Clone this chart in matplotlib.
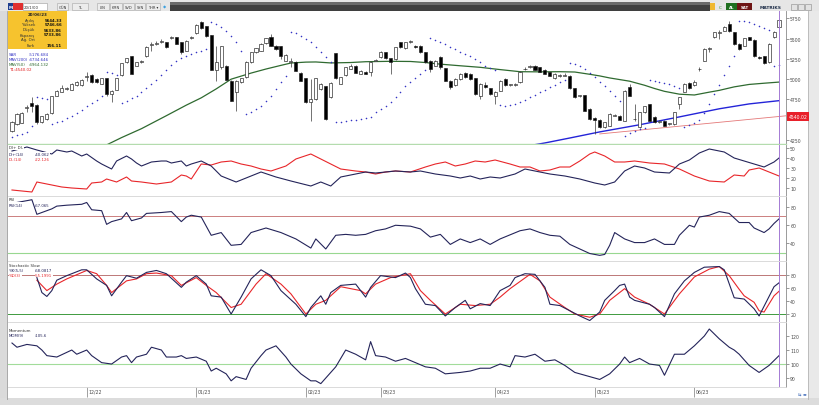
import matplotlib
matplotlib.use("Agg")
import matplotlib.pyplot as plt
import matplotlib.transforms as mtransforms
from matplotlib.patches import Rectangle

W, H = 820, 406

# ---- fiyat verisi (mum) ----
opens = [4366, 4448, 4460, 4650, 4707, 4682, 4477, 4505, 4579, 4797,
         4846, 4880, 4871, 4928, 4928, 5030, 5052, 5002, 4945, 5011,
         4818, 4871, 5052, 5208, 5282, 5167, 5210, 5282, 5420, 5434,
         5455, 5454, 5510, 5516, 5454, 5351, 5510, 5569, 5700, 5651,
         5544, 5117, 5146, 5167, 4982, 4846, 4961, 5023, 5208, 5331,
         5351, 5442, 5516, 5413, 5405, 5228, 5210, 5216, 5076, 5011,
         4715, 4756, 4879, 4912, 4776, 5319, 4941, 5052, 5130, 5167,
         5064, 5093, 5084, 5225, 5269, 5331, 5257, 5249, 5454, 5380,
         5455, 5413, 5413, 5331, 5228, 5167, 5269, 5134, 4982, 4928,
         5002, 5076, 5064, 5011, 4797, 4928, 4887, 4797, 4859, 5002,
         4925, 4925, 4961, 5120, 5150, 5167, 5146, 5117, 5084, 5011,
         5040, 5045, 5043, 4887, 4790, 4805, 4633, 4518, 4501, 4407,
         4427, 4548, 4551, 4489, 4900, 4505, 4407, 4592, 4694, 4530,
         4470, 4489, 4445, 4448, 4694, 4846, 4953, 4928, 5120, 5228,
         5370, 5516, 5570, 5598, 5680, 5577, 5434, 5413, 5516, 5487,
         5278, 5282, 5208, 5516, 5644]
highs = [4489, 4580, 4590, 4682, 4776, 4690, 4550, 4580, 4795, 4865,
         4928, 4905, 4950, 4975, 5000, 5093, 5060, 5010, 5015, 5015,
         4870, 5020, 5200, 5265, 5290, 5215, 5235, 5410, 5454, 5470,
         5490, 5460, 5530, 5525, 5460, 5480, 5535, 5675, 5712, 5660,
         5550, 5413, 5410, 5175, 4990, 4990, 5020, 5225, 5340, 5390,
         5440, 5510, 5560, 5420, 5410, 5305, 5260, 5225, 5085, 5020,
         5002, 5020, 4950, 4920, 4960, 5325, 5030, 5155, 5190, 5175,
         5110, 5100, 5225, 5250, 5345, 5338, 5262, 5400, 5460, 5460,
         5480, 5420, 5420, 5338, 5235, 5235, 5290, 5140, 4990, 5010,
         5070, 5085, 5070, 5020, 4950, 4960, 4895, 4855, 4990, 5010,
         4945, 4950, 5100, 5150, 5180, 5175, 5150, 5125, 5090, 5070,
         5060, 5075, 5050, 4895, 4810, 4810, 4640, 4530, 4510, 4475,
         4580, 4565, 4560, 4865, 4940, 4694, 4600, 4675, 4700, 4540,
         4500, 4495, 4465, 4600, 4785, 4950, 4960, 4990, 5150, 5380,
         5400, 5585, 5600, 5660, 5720, 5585, 5440, 5510, 5525, 5495,
         5290, 5290, 5440, 5590, 5747]
lows = [4345, 4440, 4455, 4592, 4592, 4450, 4465, 4495, 4575, 4790,
        4838, 4870, 4865, 4920, 4920, 4982, 4955, 4950, 4940, 4790,
        4715, 4865, 5045, 5200, 5060, 5160, 5195, 5275, 5351, 5420,
        5440, 5385, 5500, 5430, 5310, 5345, 5490, 5560, 5620, 5520,
        5110, 4982, 5130, 4985, 4725, 4612, 4955, 5015, 5200, 5325,
        5345, 5435, 5405, 5365, 5250, 5220, 5150, 5100, 4975, 4705,
        4489, 4745, 4870, 4495, 4770, 5000, 4935, 5045, 5120, 5070,
        5060, 5058, 5040, 5220, 5262, 5250, 5064, 5242, 5385, 5375,
        5440, 5385, 5325, 5200, 5090, 5160, 5126, 4975, 4880, 4920,
        4995, 5015, 4995, 4810, 4756, 4890, 4810, 4694, 4850, 4920,
        4915, 4915, 4955, 5110, 5140, 5110, 5085, 5060, 5035, 5005,
        5030, 5035, 4880, 4770, 4780, 4605, 4500, 4325, 4400, 4400,
        4420, 4540, 4495, 4480, 4790, 4489, 4400, 4585, 4480, 4460,
        4460, 4420, 4430, 4440, 4633, 4840, 4880, 4920, 5100, 5220,
        5330, 5510, 5490, 5590, 5585, 5425, 5365, 5405, 5480, 5275,
        5250, 5190, 5200, 5505, 5634]
closes = [4468, 4571, 4583, 4660, 4666, 4477, 4542, 4571, 4789, 4859,
          4887, 4890, 4941, 4969, 4990, 5040, 4961, 4961, 5011, 4818,
          4859, 5011, 5195, 5257, 5064, 5208, 5220, 5401, 5430, 5450,
          5465, 5392, 5520, 5434, 5339, 5475, 5520, 5668, 5627, 5528,
          5117, 5208, 5405, 4994, 4735, 4982, 5011, 5216, 5331, 5380,
          5434, 5503, 5413, 5372, 5290, 5298, 5222, 5105, 4982, 4715,
          4756, 5011, 4941, 4510, 4953, 5011, 5023, 5146, 5160, 5076,
          5105, 5064, 5216, 5235, 5339, 5257, 5216, 5392, 5392, 5454,
          5465, 5392, 5331, 5208, 5126, 5228, 5146, 4982, 4900, 5002,
          5064, 5023, 5002, 4818, 4941, 4900, 4818, 4846, 4982, 4928,
          4935, 4935, 5093, 5130, 5160, 5117, 5093, 5064, 5043, 5064,
          5050, 5055, 4887, 4776, 4800, 4612, 4510, 4501, 4407, 4468,
          4571, 4555, 4501, 4859, 4797, 4515, 4592, 4666, 4489, 4468,
          4480, 4427, 4452, 4592, 4776, 4941, 4887, 4969, 5130, 5372,
          5380, 5577, 5580, 5639, 5590, 5434, 5372, 5503, 5487, 5282,
          5257, 5200, 5434, 5578, 5734]

sar = [4290, 4310, 4330, 4345, 4427, 4776, 4770, 4760, 4448, 4468,
       4489, 4518, 4551, 4584, 4625, 4666, 4707, 4748, 4789, 5093,
       5070, 5050, 4707, 4735, 4764, 4797, 4838, 4887, 4941, 4990,
       5052, 5117, 5175, 5228, 5257, 5282, 5310, 5331, 5350, 5370,
       5709, 5680, 5639, 5598, 5536, 5454, 5351, 4571, 4592, 4633,
       4674, 4735, 4797, 4879, 4961, 5043, 5577, 5565, 5536, 5495,
       5454, 5392, 5331, 5269, 5210, 4468, 4477, 4485, 4493, 4501,
       4510, 4522, 4538, 4592, 4633, 4674, 4715, 4776, 4838, 4912,
       4960, 5010, 5060, 5110, 5503, 5487, 5462, 5434, 5401, 5372,
       5339, 5310, 5282, 5249, 5208, 5167, 5140, 5110, 4680, 4674,
       4682, 4694, 4715, 4748, 4776, 4809, 4838, 4871, 4900, 4928,
       4961, 4990, 5199, 5183, 5158, 5126, 5076, 5023, 4969, 4912,
       4859, 4797, 4735, 4304, 4337, 4366, 4385, 4400, 4985, 4982,
       4969, 4953, 4937, 4912, 4887, 4407, 4436, 4461, 4502, 4584,
       4695, 4818, 4929, 5052, 5167, 5290, 5720, 5716, 5700, 5680,
       5660, 5630, 5600, 5160, 5177]

ma50_idx = [19, 22, 26, 31, 35, 38, 41, 44, 48, 51, 54, 56, 59, 61, 64, 68, 71, 76,
            80, 83, 86, 90, 94, 98, 102, 106, 110, 113, 116, 118, 120, 124, 127,
            129, 131, 134, 137, 140, 142, 145, 148, 151, 154]
ma50_val = [4190, 4280, 4390, 4550, 4680, 4770, 4880, 5000, 5075, 5125, 5170, 5199,
            5210, 5212, 5200, 5205, 5215, 5220, 5218, 5205, 5185, 5165, 5146, 5118,
            5092, 5090, 5092, 5088, 5060, 5040, 5015, 4975, 4925, 4885, 4850, 4815,
            4805, 4840, 4862, 4905, 4935, 4950, 4964]
ma200_idx = [104, 107, 112, 118, 126, 134, 142, 148, 154]
ma200_val = [4182, 4214, 4275, 4350, 4438, 4535, 4635, 4695, 4735]
t1_idx = [118, 156]
t1_val = [4325, 4552]

# ---- indikatorler ----
dip_idx = [0, 3, 5, 8, 9, 11, 12, 14, 15, 17, 18, 20, 21, 23, 24, 25, 26, 28, 30, 31,
           32, 34, 35, 36, 38, 40, 42, 45, 48, 50, 53, 56, 60, 62, 64, 66, 69, 71, 73,
           77, 80, 82, 85, 88, 90, 92, 94, 96, 98, 101, 103, 105, 108, 111, 114, 117,
           119, 121, 123, 125, 127, 129, 132, 134, 136, 138, 140, 142, 143, 145, 147,
           149, 151, 153, 154]
dip_val = [47, 51, 48, 44, 48, 46, 47, 42, 44, 37, 34, 29, 37, 42, 39, 35, 32, 36, 37, 37,
           35, 37, 32, 34, 37, 32, 22, 16, 22, 26, 21, 17, 12, 16, 12, 21, 24, 26, 25,
           27, 26, 27, 24, 22, 20, 22, 19, 21, 20, 24, 29, 27, 24, 22, 19, 15,
           13, 16, 27, 32, 30, 26, 25, 34, 38, 45, 49, 47, 46, 40, 37,
           34, 31, 36, 40]
dim_idx = [0, 4, 5, 7, 10, 12, 15, 16, 18, 19, 21, 23, 24, 26, 29, 32, 34, 35, 36, 38,
           40, 42, 44, 46, 48, 50, 52, 55, 57, 60, 62, 64, 66, 69, 71, 73, 75, 77, 80,
           83, 85, 87, 89, 91, 93, 95, 97, 100, 102, 104, 106, 108, 110, 112, 114, 116,
           117, 119, 121, 123, 125, 128, 131, 134, 137, 140, 143, 145, 147, 148, 150,
           152, 154]
dim_val = [8, 6, 16, 14, 11, 10, 9, 15, 16, 19, 16, 21, 17, 16, 14, 16, 23, 22, 19, 34,
           33, 36, 37, 34, 32, 29, 27, 32, 39, 44, 39, 34, 29, 27, 26, 24, 26, 27, 26,
           31, 34, 36, 32, 34, 37, 36, 38, 34, 31, 31, 27, 28, 31, 31, 37, 44,
           46, 42, 36, 36, 37, 35, 34, 29, 22, 17, 16, 23, 22, 28, 30,
           26, 22]

rsi_idx = [0, 1, 4, 5, 6, 8, 9, 11, 14, 15, 16, 18, 19, 20, 22, 23, 24, 26, 27, 30, 32,
           34, 35, 36, 38, 40, 42, 44, 46, 48, 51, 54, 57, 60, 61, 63, 65, 67, 69, 71,
           73, 75, 77, 80, 82, 84, 86, 88, 90, 92, 94, 96, 98, 102, 104, 106, 108, 110,
           112, 114, 116, 118, 119, 120, 121, 123, 125, 127, 129, 131, 133, 134, 136,
           137, 138, 140, 142, 143, 144, 146, 148, 149, 151, 152, 153, 154]
rsi_val = [84, 85, 88, 72, 74, 78, 81, 82, 83, 85, 77, 76, 61, 64, 67, 74, 65, 68, 73, 74, 75,
           64, 69, 71, 69, 49, 52, 38, 39, 52, 57, 52, 45, 35, 45, 34, 49, 50, 49, 50,
           54, 56, 60, 59, 56, 47, 50, 39, 45, 41, 45, 39, 45, 54, 56, 52, 49, 48,
           39, 34, 29, 27, 28, 38, 52, 45, 41, 41, 45, 39, 39, 49, 60,
           58, 69, 71, 75, 74, 73, 63, 63, 57, 52, 56, 62, 67]

k_idx = [5, 6, 7, 8, 9, 11, 14, 15, 17, 19, 20, 22, 23, 25, 27, 29, 31, 34, 35, 37, 39,
         40, 42, 44, 46, 48, 50, 52, 54, 57, 59, 60, 62, 63, 64, 66, 69, 71, 72, 74, 77,
         79, 80, 81, 83, 85, 87, 89, 91, 92, 94, 96, 98, 100, 101, 103, 105, 107, 108,
         110, 112, 114, 116, 118, 119, 121, 122, 123, 124, 125, 128, 129, 131, 133,
         135, 137, 139, 142, 143, 145, 147, 149, 150, 151, 153, 154]
k_val = [76, 53, 47, 56, 72, 79, 88, 88, 74, 64, 48, 69, 79, 75, 84, 87, 82, 61, 69, 79, 66,
         48, 46, 20, 46, 74, 88, 79, 56, 35, 16, 30, 48, 35, 53, 64, 66, 46, 61, 79, 76,
         83, 76, 59, 35, 33, 17, 30, 41, 28, 36, 33, 56, 64, 76, 82, 81, 61, 35,
         33, 25, 17, 10, 23, 41, 56, 64, 66, 46, 41, 35, 30, 16, 51,
         71, 84, 92, 93, 88, 45, 43, 28, 17, 32, 62, 68]
d_idx = [5, 7, 9, 11, 15, 17, 19, 20, 23, 25, 27, 29, 32, 34, 37, 39, 41, 44, 46, 49, 51,
         54, 56, 59, 61, 63, 66, 70, 71, 73, 76, 80, 82, 84, 87, 90, 93, 96, 98, 100,
         104, 106, 108, 111, 113, 116, 118, 120, 123, 125, 128, 131, 134, 137, 140,
         142, 144, 146, 147, 149, 150, 151, 153, 154]
d_val = [72, 56, 66, 74, 87, 82, 64, 53, 71, 74, 82, 83, 79, 64, 76, 64, 53, 30, 35, 66, 82,
         66, 51, 20, 35, 41, 62, 56, 51, 66, 76, 82, 56, 41, 20, 35, 33, 35, 46, 59,
         81, 71, 46, 30, 20, 15, 20, 41, 59, 46, 35, 20, 51, 77, 89,
         93, 79, 58, 48, 38, 25, 23, 48, 55]

mom_idx = [0, 1, 3, 5, 6, 7, 9, 12, 13, 15, 16, 18, 20, 22, 23, 24, 25, 27, 28, 30, 31,
           33, 34, 35, 37, 39, 40, 41, 43, 44, 45, 47, 48, 50, 51, 53, 55, 56, 58, 60,
           61, 62, 64, 65, 67, 69, 71, 72, 73, 75, 77, 79, 81, 83, 85, 87, 90, 92, 94,
           96, 98, 100, 101, 103, 105, 107, 109, 111, 113, 116, 118, 120, 122, 123,
           124, 126, 128, 130, 131, 133, 135, 137, 139, 140, 142, 144, 145, 146, 148,
           150, 152, 154]
mom_val = [115, 112, 114, 113, 110, 106, 105, 110, 107, 110, 106, 101, 100, 105, 106, 101,
           105, 107, 112, 110, 105, 105, 106, 104, 105, 102, 95, 97, 93, 88, 91, 89, 97,
           106, 110, 113, 105, 100, 93, 88, 88, 86, 94, 98, 110, 107, 103, 116, 106, 105,
           102, 104, 101, 98, 97, 93, 94, 95, 97, 97, 100, 98, 106, 105, 107, 102, 103,
           99, 94, 91, 89, 93, 100, 105, 101, 104, 100, 99, 92, 107, 107, 113, 120, 125,
           118, 112, 110, 107, 99, 94, 99, 106]

month_idx = [15, 37, 59, 74, 97, 117, 137]
month_lbl = ["12/22", "01/23", "02/23", "03/23", "04/23", "05/23", "06/23"]

NAVY = "#24245a"
RED = "#e8262a"
CURSOR = "#a47ad4"

fig = plt.figure(figsize=(8.2, 4.06), dpi=100)
fig.patch.set_facecolor("white")


def px_axes(y0, y1, z=2):
    return fig.add_axes([8 / W, 1 - y1 / H, (786 - 8) / W, (y1 - y0) / H], zorder=z)


def px(ax, x, y, w, h, **kw):
    ax.add_patch(Rectangle((x, y), w, h, **kw))


# arka plan cercevesi
bg = fig.add_axes([0, 0, 1, 1], zorder=0)
bg.set_xlim(0, W)
bg.set_ylim(H, 0)
bg.axis("off")
px(bg, 0, 0, W, 12, fc="#e6e6e6", ec="none")
px(bg, 170, 3, 540, 9, fc="#3f3f3f", ec="none")
px(bg, 170, 3, 540, 3, fc="#6a6a6a", ec="none")
px(bg, 0, 12, 7, 394, fc="#dadada", ec="none")
bg.plot([7, 7], [12, 400], color="#9a9a9a", lw=0.6)
px(bg, 808, 12, 12, 394, fc="#e9e9e9", ec="none")
bg.plot([808, 808], [12, 400], color="#b5b5b5", lw=0.6)
px(bg, 0, 399, W, 7, fc="#dcdcdc", ec="none")

panels = {}
panels["main"] = px_axes(12, 145)
panels["di"] = px_axes(146, 197)
panels["rsi"] = px_axes(198, 262)
panels["sto"] = px_axes(263, 323)
panels["mom"] = px_axes(324, 388)
ylims = {"main": (4201, 5840), "di": (2, 53), "rsi": (20.8, 91),
         "sto": (7.7, 100), "mom": (83.6, 129.3)}
yticks = {"main": [4250, 4750, 5000, 5250, 5500, 5750], "di": [10, 20, 30, 40, 50],
          "rsi": [40, 60, 80], "sto": [20, 40, 60, 80], "mom": [90, 100, 110, 120]}

for key, ax in panels.items():
    ax.set_xlim(-0.8, 155.4)
    ax.set_ylim(*ylims[key])
    ax.set_facecolor("white")
    for s in ("top", "left"):
        ax.spines[s].set_visible(False)
    ax.spines["bottom"].set_color("#d4d4d4")
    ax.spines["bottom"].set_linewidth(0.6)
    ax.spines["right"].set_color("#8a8a8a")
    ax.spines["right"].set_linewidth(0.6)
    ax.yaxis.tick_right()
    ax.set_yticks(yticks[key])
    ax.tick_params(axis="y", labelsize=3.3, length=2, width=0.4, colors="#4a4a4a", pad=1)
    ax.tick_params(axis="x", bottom=False, labelbottom=False)
    ax.axvline(154, color=CURSOR, lw=0.7, zorder=6)

# ana grafik
ax = panels["main"]
idx = list(range(len(closes)))
body_lo = [min(o, c) for o, c in zip(opens, closes)]
body_h = [max(abs(c - o), 9) for o, c in zip(opens, closes)]
body_col = ["white" if c >= o else "black" for o, c in zip(opens, closes)]
ax.vlines(idx, lows, highs, color="#3a3a3a", lw=0.5, zorder=3)
ax.bar(idx, body_h, bottom=body_lo, width=0.62, color=body_col,
       edgecolor="#1e1e1e", linewidth=0.45, zorder=4)
ax.scatter(idx, sar, s=1.3, color="#3434c4", linewidths=0, zorder=5)
ax.plot(ma50_idx, ma50_val, color="#2f6a30", lw=0.9, zorder=2)
ax.plot(ma200_idx, ma200_val, color="#2424d8", lw=1.0, zorder=2)
ax.plot(t1_idx, t1_val, color="#e47878", lw=0.6, zorder=2)
ax.spines["bottom"].set_color("#b4dcae")
ax.spines["bottom"].set_linewidth(1.0)
blend = mtransforms.blended_transform_factory(ax.transAxes, ax.transData)
ax.text(1.003, 4540.02, "4540.02", transform=blend, ha="left", va="center",
        fontsize=3.3, color="white", zorder=8, clip_on=False,
        bbox=dict(fc="#e8202a", ec="none", pad=0.35, boxstyle="square"))

# DI
ax = panels["di"]
ax.plot(dim_idx, dim_val, color=RED, lw=0.8)
ax.plot(dip_idx, dip_val, color=NAVY, lw=0.8)

# RSI
ax = panels["rsi"]
ax.axhline(70, color="#c46a6a", lw=0.6)
ax.axhline(30, color="#98d890", lw=0.8)
ax.plot(rsi_idx, rsi_val, color=NAVY, lw=0.8)

# Stokastik
ax = panels["sto"]
ax.axhline(80, color="#b26262", lw=0.6)
ax.axhline(20, color="#3e9a3e", lw=0.7)
ax.plot(d_idx, d_val, color=RED, lw=0.8)
ax.plot(k_idx, k_val, color=NAVY, lw=0.8)

# Momentum
ax = panels["mom"]
ax.axhline(100, color="#a2dc9a", lw=0.8)
ax.plot(mom_idx, mom_val, color=NAVY, lw=0.8)
ax.set_xticks(month_idx)
ax.tick_params(axis="x", bottom=True, length=7, width=0.5, color="#7a7a7a", direction="out")
xblend = mtransforms.blended_transform_factory(ax.transData, ax.transAxes)
for m, lbl in zip(month_idx, month_lbl):
    ax.text(m + 0.35, -0.03, lbl, transform=xblend, ha="left", va="top",
            fontsize=3.3, color="#4a4a4a", clip_on=False)

# ust katman: yazilar
fg = fig.add_axes([0, 0, 1, 1], zorder=10)
fg.set_xlim(0, W)
fg.set_ylim(H, 0)
fg.axis("off")

# arac cubugu
px(fg, 8, 4, 5, 7, fc="#1f3f8f", ec="none")
fg.text(10.5, 7.6, "M", fontsize=3, color="white", ha="center", va="center", weight="bold")
px(fg, 13, 4, 10, 7, fc="#e03030", ec="none")
px(fg, 23, 4, 24, 7, fc="white", ec="#9a9a9a", lw=0.4)
fg.text(24, 7.6, "20/1/00", fontsize=2.8, color="#333", va="center")
for x0, w, lbl in [(57, 11, "GÜN"), (72, 16, "TL"), (97, 12, "LIN"), (110, 12, "KMN"),
                   (123, 11, "SVD"), (135, 10, "SYN"), (146, 14, "THR ▾")]:
    px(fg, x0, 4, w, 7, fc="#ececec", ec="#a6a6a6", lw=0.4)
    fg.text(x0 + w / 2, 7.6, lbl, fontsize=2.6, color="#333", ha="center", va="center")
fg.text(165, 7.6, "◆", fontsize=3, color="#3aa0e0", ha="center", va="center")
px(fg, 710, 4, 5, 7, fc="#f0b830", ec="none")
fg.text(720, 7.6, "C", fontsize=3, color="#2a8a2a", ha="center", va="center")
px(fg, 726, 4, 11, 7, fc="#1f6f1f", ec="none")
fg.text(731.5, 7.6, "AL", fontsize=2.8, color="white", ha="center", va="center", weight="bold")
px(fg, 737, 4, 15, 7, fc="#6e1414", ec="none")
fg.text(744.5, 7.6, "SAT", fontsize=2.8, color="white", ha="center", va="center", weight="bold")
fg.text(771, 7.6, "MATRIKS", fontsize=3.2, color="#20304a", ha="center", va="center", weight="bold")
for x0 in (791, 798, 805):
    px(fg, x0, 4.5, 6, 6, fc="#e2e2e2", ec="#8a8a8a", lw=0.4)
fg.text(803, 396, "⇆ ◂▸", fontsize=3, color="#2a5ab0", ha="center", va="center")

# fiyat kutusu
px(fg, 8, 12, 59, 38, fc="#f6c32e", ec="none")
fg.text(37.5, 15, "20/06/23", fontsize=2.9, color="#222", ha="center", va="center", weight="bold")
box_lbl = ["Açılış", "Yüksek", "Düşük", "Kapanış", "Ağ. Ort", "Fark"]
box_val = ["5644.33", "5746.66", "5633.86", "5733.86", "", "156.11"]
box_y = [20.7, 25.5, 30.5, 35.5, 40.5, 45.7]
for lbl, val, y in zip(box_lbl, box_val, box_y):
    fg.text(35, y, lbl, fontsize=2.8, color="#333", ha="right", va="center")
    fg.text(62, y, val, fontsize=2.8, color="#111", ha="right", va="center", weight="bold")

for lbl, val, y, col in [("SAR", ":5176.684", 54.7, "#3434c4"),
                         ("MAV(200)", ":4734.646", 59.7, "#3434c4"),
                         ("MAV(50)", ":4964.132", 64.7, "#2f6a30")]:
    fg.text(9, y, lbl, fontsize=2.9, color=col, va="center")
    fg.text(29, y, val, fontsize=2.9, color=col, va="center")
fg.text(9, 69.7, "T1:4540.02", fontsize=2.9, color="#e02020", va="center")

# panel aciklamalari
wb = dict(fc="white", ec="none", pad=0.3)
legends = [
    (148.5, "DI+ DI-", None, "#333"),
    (155.0, "DI+(14)", ":40.062", NAVY),
    (160.5, "DI-(14)", ":22.126", RED),
    (200.5, "RSI", None, "#333"),
    (205.7, "RSI(14)", ":67.065", NAVY),
    (265.7, "Stochastic Slow", None, "#333"),
    (270.7, "%K(5,5)", ":68.0817", NAVY),
    (275.7, "%D(3)", ":55.1991", RED),
    (331.0, "Momentum", None, "#333"),
    (336.0, "MOM(9)", ":105.6", NAVY),
]
for y, lbl, val, col in legends:
    fg.text(9, y, lbl, fontsize=2.8, color=col, va="center", bbox=wb)
    if val:
        fg.text(35, y, val, fontsize=2.8, color=col, va="center", bbox=wb)

fig.savefig("out.png", dpi=100, facecolor="white")
